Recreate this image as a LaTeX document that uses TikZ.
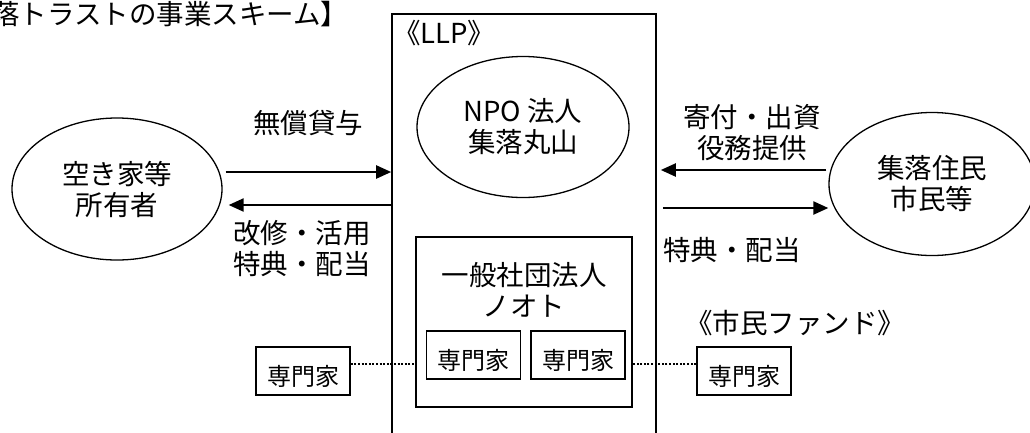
\documentclass[tikz,border=0pt]{standalone}
\usepackage{fontspec}
\setmainfont{Noto Sans CJK JP}
\usetikzlibrary{positioning,shapes.geometric,arrows.meta}
\newcommand{\bigtext}{\fontsize{27.5}{31}\selectfont}
\newcommand{\boxtext}{\fontsize{24}{28}\selectfont}

\begin{document}
\begin{tikzpicture}[x=1pt, y=-1pt,
	party/.style={draw, ellipse, line width=1.3pt, align=center, font=\bigtext},
	llpbox/.style={draw, line width=1.6pt, inner sep=0pt},
	orgbox/.style={draw, line width=1.6pt, inner sep=0pt},
	expert/.style={draw, line width=1.6pt, minimum width=94pt, minimum height=48pt, inner sep=2pt, text height=30pt, text depth=2pt, font=\boxtext},
	flow/.style={-{Triangle[length=15pt, width=13pt]}, line width=2.2pt},
	link/.style={dash pattern=on 2pt off 1.6pt, line width=2pt},
	say/.style={align=center, font=\bigtext, inner sep=0pt}]
	\useasboundingbox (0,0) rectangle (1030,432);
	\node[say, anchor=west] (title) at (-8,14) {落トラストの事業スキーム】};
	\node[llpbox, minimum width=264pt, minimum height=456pt] (llp) at (524,242) {};
	\node[say, anchor=west] (llpname) at (393,33) {《LLP》};
	\node[party, minimum width=212pt, minimum height=141pt] (npo) at (523,127) {NPO 法人\\集落丸山};
	\node[party, minimum width=210pt, minimum height=142pt] (owner) at (117,189) {空き家等\\所有者};
	\node[party, minimum width=206pt, minimum height=143pt] (resid) at (932,184) {集落住民\\市民等};
	\node[orgbox, minimum width=216pt, minimum height=170pt] (noto) at (524,322) {};
	\node[say] (notoname) at (524,290) {一般社団法人\\ノオト};
	\node[expert] (e1) at (473.5,355) {専門家};
	\node[expert, right=9pt of e1] (e2) {専門家};
	\node[expert] (lexp) at (303,371) {専門家};
	\node[expert] (rexp) at (744,371) {専門家};
	\node[say] (fund) at (795,323) {《市民ファンド》};
	% flows between the parties and the LLP
	\node[say] (lend) at (308,123) {無償貸与};
	\node[say] (reform) at (302,249) {改修・活用\\特典・配当};
	\node[say] (donate) at (752,133) {寄付・出資\\役務提供};
	\node[say] (bonus) at (732,250) {特典・配当};
	\draw[flow] ([shift={(3pt,17pt)}]owner.east) -- ([yshift=17pt]owner.east -| llp.west);
	\draw[flow] ([yshift=-16pt]owner.east -| llp.west) -- ([shift={(6pt,-16pt)}]owner.east);
	\draw[flow] ([shift={(-2pt,14pt)}]resid.west) -- ([shift={(4pt,14pt)}]resid.west -| llp.east);
	\draw[flow] ([shift={(6pt,-24pt)}]resid.west -| llp.east) -- ([yshift=-24pt]resid.west);
	\draw[link] ([yshift=7pt]lexp.east) -- ([yshift=7pt]lexp.east -| noto.west);
	\draw[link] ([yshift=7pt]rexp.west) -- ([yshift=7pt]rexp.west -| noto.east);
\end{tikzpicture}
\end{document}
